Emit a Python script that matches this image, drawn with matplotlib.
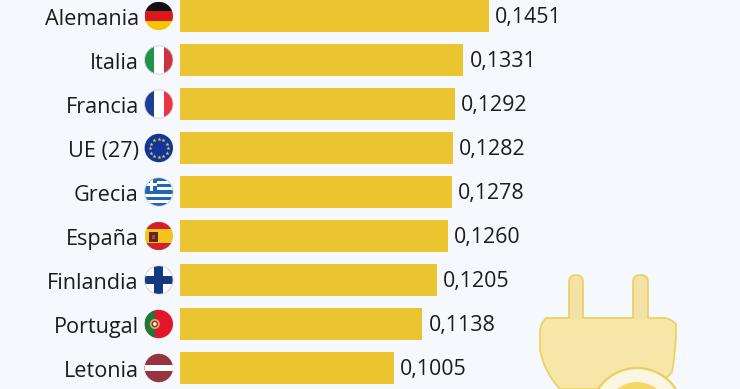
import matplotlib
matplotlib.use('Agg')
import matplotlib.pyplot as plt
from matplotlib.patches import Circle, Rectangle, PathPatch, FancyBboxPatch
from matplotlib.path import Path
from matplotlib.transforms import ScaledTranslation
import numpy as np

countries = ['Alemania', 'Italia', 'Francia', 'UE (27)', 'Grecia', 'España',
             'Finlandia', 'Portugal', 'Letonia']
prices = [0.1451, 0.1331, 0.1292, 0.1282, 0.1278, 0.1260, 0.1205, 0.1138, 0.1005]
value_labels = ['0,1451', '0,1331', '0,1292', '0,1282', '0,1278', '0,1260',
                '0,1205', '0,1138', '0,1005']

BG = '#f5f8fc'
BAR = '#eac530'
TEXT = '#1c1c1c'
W, H = 740, 389

plt.rcParams['font.family'] = ['Open Sans', 'DejaVu Sans']

fig = plt.figure(figsize=(7.4, 3.89), dpi=100, facecolor=BG)

# bars, row pitch 44 px, first row centred on y=16
ax = fig.add_axes([180 / W, 0, (W - 180) / W, 1])
ax.set_facecolor('none')
ax.set_xlim(0, (W - 180) / 2129)
ax.set_ylim((H - 16) / 44, -16 / 44)
ax.barh(range(len(countries)), prices, height=32 / 44, color=BAR)
for i, (p, lab) in enumerate(zip(prices, value_labels)):
    ax.annotate(lab, (p, i), xytext=(4.4, -1.3), textcoords='offset points',
                va='center', ha='left', fontsize=15.4, color=TEXT)
ax.set_yticks(range(len(countries)))
ax.set_yticklabels(countries, fontsize=15.6, color=TEXT)
ax.tick_params(axis='y', length=0, pad=29.7)
ax.set_xticks([])
for s in ax.spines.values():
    s.set_visible(False)
down = ScaledTranslation(0, -1 / 100, fig.dpi_scale_trans)
for lab in ax.get_yticklabels():
    lab.set_transform(lab.get_transform() + down)

# overlay in pixels for flags and the plug icon
fg = fig.add_axes([0, 0, 1, 1], zorder=5)
fg.set_xlim(0, W)
fg.set_ylim(H, 0)
fg.axis('off')
fg.patch.set_alpha(0)

CX, R = 158.8, 14.2


def rect(cy, x0, y0, x1, y1, color, clip):
    r = Rectangle((CX + x0 * R, cy + y0 * R), (x1 - x0) * R, (y1 - y0) * R,
                  color=color, lw=0)
    fg.add_patch(r)
    r.set_clip_path(clip)


def base(cy, color='white'):
    c = Circle((CX, cy), R, fc=color, ec='none')
    fg.add_patch(c)
    return c


def rim(cy, color='#c9ced6'):
    fg.add_patch(Circle((CX, cy), R, fc='none', ec=color, lw=0.6))


def hstripes(cy, colors, clip):
    n = len(colors)
    for i, col in enumerate(colors):
        rect(cy, -1, -1 + 2 * i / n, 1, -1 + 2 * (i + 1) / n, col, clip)


def vstripes(cy, colors, clip):
    n = len(colors)
    for i, col in enumerate(colors):
        rect(cy, -1 + 2 * i / n, -1, -1 + 2 * (i + 1) / n, 1, col, clip)


# Alemania
cy = 16
c = base(cy)
hstripes(cy, ['#111111', '#d8171e', '#f6c400'], c)
# Italia
cy = 60
c = base(cy)
vstripes(cy, ['#22924a', '#ffffff', '#cc3340'], c)
rim(cy)
# Francia
cy = 104
c = base(cy)
vstripes(cy, ['#1c3f94', '#ffffff', '#ea3344'], c)
rim(cy)
# UE
cy = 148
c = base(cy, '#13359b')
for a in np.arange(0, 360, 30):
    fg.plot(CX + 9 * np.cos(np.radians(a)), cy + 9 * np.sin(np.radians(a)), marker='*',
            ms=3.0, color='#e8d030', mew=0)
# Grecia
cy = 192
c = base(cy)
hstripes(cy, ['#1f66b4', '#ffffff'] * 4 + ['#1f66b4'], c)
rect(cy, -1, -1, -0.1, -0.05, '#1f66b4', c)
rect(cy, -0.65, -1, -0.4, -0.05, '#ffffff', c)
rect(cy, -1, -0.65, -0.1, -0.42, '#ffffff', c)
rim(cy)
# España
cy = 236
c = base(cy)
hstripes(cy, ['#d4202a', '#f6c21c', '#f6c21c', '#d4202a'], c)
rect(cy, -0.72, -0.3, -0.05, 0.4, '#5a2a1c', c)
rect(cy, -0.5, -0.1, -0.25, 0.2, '#c0392b', c)
# Finlandia
cy = 280
c = base(cy)
rect(cy, -1, -0.3, 1, 0.3, '#17397f', c)
rect(cy, -0.35, -1, 0.3, 1, '#17397f', c)
rim(cy)
# Portugal
cy = 324
c = base(cy, '#e3152b')
rect(cy, -1, -1, -0.25, 1, '#1c7a3a', c)
fg.add_patch(Circle((CX - 4, cy), 5, fc='#d8b060', ec='none'))
fg.add_patch(Circle((CX - 4, cy), 2.6, fc='#efe8e0', ec='#8a2030', lw=0.9))
# Letonia
cy = 368
c = base(cy, '#96343f')
rect(cy, -1, -0.2, 1, 0.24, '#ffffff', c)

# plug icon, bottom right
PLUG = '#f6e6a8'
EDGE = '#ecd05c'
for px0, px1 in [(569, 583), (633, 648)]:
    fg.add_patch(FancyBboxPatch((px0, 275), px1 - px0, 50,
                                boxstyle='round,pad=0,rounding_size=7',
                                fc='#f3e2a6', ec=EDGE, lw=1.2))
verts = [(552, 318), (664, 318), (670, 318), (676, 324), (676, 332), (676, 350), (672, 372),
         (656, 389), (560, 389), (544, 372), (540, 350), (540, 332), (540, 324), (546, 318), (552, 318)]
codes = [Path.MOVETO, Path.LINETO, Path.CURVE3, Path.CURVE3, Path.LINETO, Path.CURVE3, Path.CURVE3,
         Path.LINETO, Path.LINETO, Path.CURVE3, Path.CURVE3, Path.LINETO, Path.CURVE3, Path.CURVE3,
         Path.CLOSEPOLY]
fg.add_patch(PathPatch(Path(verts, codes), fc=PLUG, ec=EDGE, lw=1.2))
# prong bases sit over the body outline
fg.add_patch(Rectangle((569.6, 316), 12.8, 4, fc='#f3e2a6', ec='none'))
fg.add_patch(Rectangle((633.6, 316), 13.8, 4, fc='#f3e2a6', ec='none'))
fg.add_patch(Circle((637, 414), 46, fc='#fbf6e2', ec=EDGE, lw=1.6))
fg.add_patch(Circle((637, 414), 32, fc='#f3d867', ec='none'))
fg.add_patch(Circle((642, 414), 24, fc='#fbf6e2', ec='none'))

fig.savefig('out.png', dpi=100, facecolor=BG)
